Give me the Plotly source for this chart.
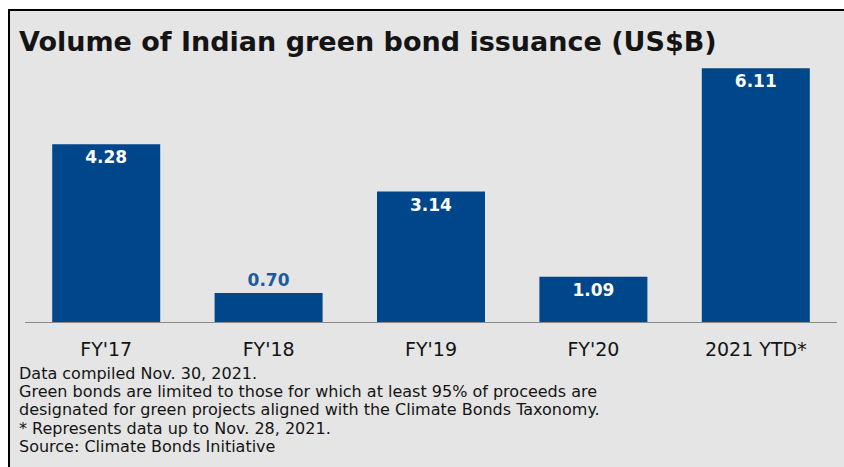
import plotly.graph_objects as go

categories = ["FY'17", "FY'18", "FY'19", "FY'20", "2021 YTD*"]
values = [4.28, 0.70, 3.14, 1.09, 6.11]
label_pos = ["inside", "outside", "inside", "inside", "inside"]

title_text = "Volume of Indian green bond issuance (US$B)"
notes = [
    "Data compiled Nov. 30, 2021.",
    "Green bonds are limited to those for which at least 95% of proceeds are",
    "designated for green projects aligned with the Climate Bonds Taxonomy.",
    "* Represents data up to Nov. 28, 2021.",
    "Source: Climate Bonds Initiative",
]

W, H = 844, 467
ML, MR, MT, MB = 25, 7, 52, 145
PW, PH = W - ML - MR, H - MT - MB
BG = "#e5e5e5"
BAR = "#00468b"
FONT = "DejaVu Sans"
TXT = "#141414"


def px(x):  # screen x -> paper
    return (x - ML) / PW


def py(y):  # screen y -> paper
    return (H - MB - y) / PH


fig = go.Figure()
fig.add_trace(go.Bar(
    x=categories, y=values,
    marker=dict(color=BAR, line=dict(width=0)),
    texttemplate="%{y:.2f}",
    textposition=label_pos,
    insidetextanchor="end",
    insidetextfont=dict(color="white", size=17, family=FONT, weight="bold"),
    outsidetextfont=dict(color="#1d5a9c", size=17, family=FONT, weight="bold"),
    cliponaxis=False,
))

shapes = [
    dict(type="rect", xref="paper", yref="paper", x0=px(0), x1=px(W), y0=py(0), y1=py(9),
         fillcolor="white", line=dict(width=0), layer="below"),
    dict(type="rect", xref="paper", yref="paper", x0=px(0), x1=px(8), y0=py(0), y1=py(H),
         fillcolor="white", line=dict(width=0), layer="below"),
    dict(type="line", xref="paper", yref="paper", x0=px(8), x1=px(W), y0=py(10), y1=py(10),
         line=dict(color="black", width=2)),
    dict(type="line", xref="paper", yref="paper", x0=px(9), x1=px(9), y0=py(9), y1=py(H),
         line=dict(color="black", width=2)),
]

annotations = [
    dict(text=title_text, xref="paper", yref="paper", x=px(17), y=py(41),
         xanchor="left", yanchor="middle", showarrow=False,
         font=dict(family=FONT, size=27, color=TXT, weight="bold")),
]
note_y = [373, 391, 409, 428, 446]
for t, yy in zip(notes, note_y):
    annotations.append(dict(text=t, xref="paper", yref="paper", x=px(17), y=py(yy),
                            xanchor="left", yanchor="middle", showarrow=False,
                            font=dict(family=FONT, size=16, color=TXT)))

fig.update_layout(
    width=W, height=H,
    margin=dict(l=ML, r=MR, t=MT, b=MB, pad=0),
    paper_bgcolor=BG, plot_bgcolor="rgba(0,0,0,0)",
    bargap=0.335,
    showlegend=False,
    shapes=shapes,
    annotations=annotations,
    xaxis=dict(showline=True, linecolor="#8a8a8a", linewidth=1, ticks="",
               ticklabelstandoff=10, tickfont=dict(family=FONT, size=19, color=TXT),
               showgrid=False, zeroline=False),
    yaxis=dict(range=[0, 6.5], visible=False, showgrid=False, zeroline=False),
    uniformtext=dict(mode=False),
)

fig.write_html(
    "out.html",
    config={"displayModeBar": False},
    post_script=(
        "document.documentElement.style.overflow='hidden';"
        "document.body.style.margin='0';document.body.style.overflow='hidden';"
    ),
)
